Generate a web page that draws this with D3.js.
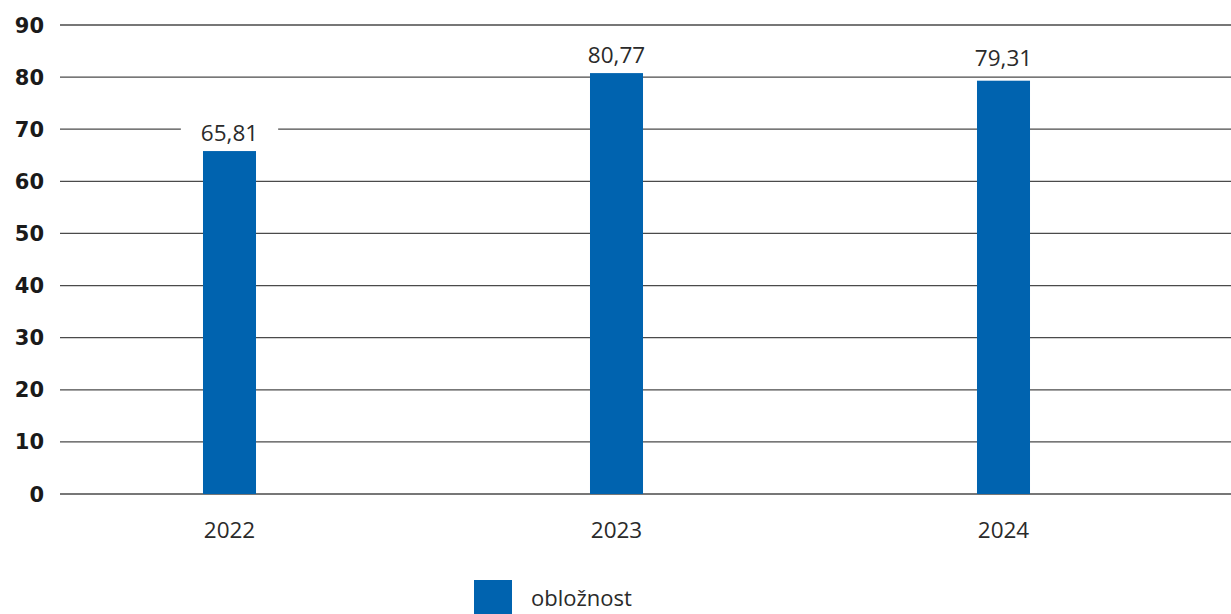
<!DOCTYPE html>
<html><head><meta charset="utf-8">
<script src="https://cdn.jsdelivr.net/npm/d3@7"></script>
<style>body{margin:0;background:#fff;} svg{display:block;font-family:"Open Sans",sans-serif;}</style>
</head><body>
<svg id="c" width="1231" height="614"></svg>
<script>
const years = ["2022", "2023", "2024"];
const values = [65.81, 80.77, 79.31];
const yTicks = [0, 10, 20, 30, 40, 50, 60, 70, 80, 90];
const seriesName = "obložnost";
const color = "#0063AF";

const svg = d3.select("#c");
const x = d3.scaleBand().domain(years).range([36, 1197]).paddingInner(0.863).paddingOuter(0.4315);
const y = d3.scaleLinear().domain([0, 90]).range([494, 25]);
const fmt = v => v.toFixed(2).replace(".", ",");

// gridlines
svg.append("g").selectAll("line").data(yTicks).join("line")
  .attr("x1", 60).attr("x2", 1231)
  .attr("y1", d => y(d)).attr("y2", d => y(d))
  .attr("stroke", "#4a4a4a").attr("stroke-width", 1.3);

// y labels
svg.append("g").selectAll("text").data(yTicks).join("text")
  .attr("x", 44).attr("y", d => y(d)).attr("dy", "0.36em")
  .attr("text-anchor", "end").attr("font-weight", "bold")
  .attr("font-family", "DejaVu Sans")
  .attr("font-size", 21).attr("fill", "#1a1a1a").text(d => d);

// bars
svg.append("g").selectAll("rect").data(values).join("rect")
  .attr("x", (d, i) => x(years[i])).attr("width", x.bandwidth())
  .attr("y", d => y(d)).attr("height", d => y(0) - y(d))
  .attr("fill", color);

// value labels with white background
const lg = svg.append("g").selectAll("g").data(values).join("g");
lg.each(function(d, i) {
  const g = d3.select(this);
  const cx = x(years[i]) + x.bandwidth() / 2;
  let base = y(d) - 10;
  // avoid a gridline running just under the label's baseline
  yTicks.forEach(t => {
    const gy = y(t);
    if (gy > base - 4 && gy < y(d)) base = gy - 11;
  });
  const t = g.append("text").attr("x", cx).attr("y", base)
    .attr("text-anchor", "middle").attr("font-size", 22.5).attr("fill", "#2a2a2a").text(fmt(d));
  const bb = t.node().getBBox();
  g.insert("rect", "text").attr("x", bb.x - 20).attr("y", bb.y).attr("width", bb.width + 40)
    .attr("height", bb.height - 2).attr("fill", "#fff");
});

// x labels
svg.append("g").selectAll("text").data(years).join("text")
  .attr("x", d => x(d) + x.bandwidth() / 2).attr("y", 538)
  .attr("text-anchor", "middle").attr("font-size", 22.5).attr("fill", "#2a2a2a").text(d => d);

// legend
svg.append("rect").attr("x", 474).attr("y", 580).attr("width", 38).attr("height", 34).attr("fill", color);
svg.append("text").attr("x", 531).attr("y", 606).attr("font-size", 22).attr("fill", "#2a2a2a").text(seriesName);
</script>
</body></html>
